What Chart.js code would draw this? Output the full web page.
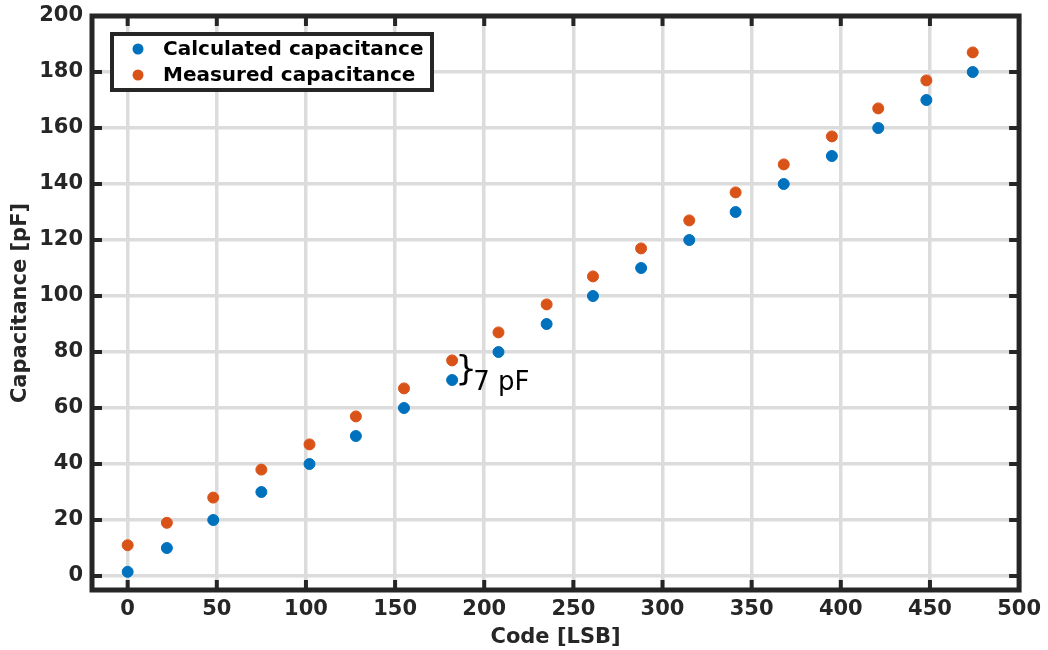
<!DOCTYPE html>
<html>
<head>
<meta charset="utf-8">
<script src="https://cdn.jsdelivr.net/npm/chart.js@4"></script>
<style>
  body { margin: 0; background: #fff; }
  #wrap { width: 1048px; height: 650px; }
</style>
</head>
<body>
<div id="wrap"><canvas id="myChart"></canvas></div>
<script>
const codes = [0, 22, 48, 75, 102, 128, 155, 182, 208, 235, 261, 288, 315, 341, 368, 395, 421, 448, 474];
const calculated = [1.5, 10, 20, 30, 40, 50, 60, 70, 80, 90, 100, 110, 120, 130, 140, 150, 160, 170, 180];
const measured = [11, 19, 28, 38, 47, 57, 67, 77, 87, 97, 107, 117, 127, 137, 147, 157, 167, 177, 187];
const seriesNames = ["Calculated capacitance", "Measured capacitance"];
const noteText = "7 pF";
const notePoint = 7; // index of the annotated code

const dark = "#262626";
const boldFont = { family: "DejaVu Sans", size: 21, weight: "bold" };

// box, inward ticks, legend and the 7 pF note
const matlabLook = {
  id: "matlabLook",
  afterDraw(chart) {
    const ctx = chart.ctx;
    const a = chart.chartArea;
    const xs = chart.scales.x, ys = chart.scales.y;
    ctx.save();
    ctx.strokeStyle = dark;
    ctx.lineWidth = 4;
    ctx.beginPath();
    xs.ticks.forEach(t => {
      const px = xs.getPixelForValue(t.value);
      ctx.moveTo(px, a.bottom); ctx.lineTo(px, a.bottom - 10);
      ctx.moveTo(px, a.top); ctx.lineTo(px, a.top + 10);
    });
    ys.ticks.forEach(t => {
      const py = ys.getPixelForValue(t.value);
      ctx.moveTo(a.left, py); ctx.lineTo(a.left + 10, py);
      ctx.moveTo(a.right, py); ctx.lineTo(a.right - 10, py);
    });
    ctx.stroke();
    ctx.lineWidth = 5;
    ctx.strokeRect(a.left, a.top, a.right - a.left, a.bottom - a.top);

    // legend
    const lx = a.left + 20, ly = a.top + 18, lw = 320, lh = 56;
    ctx.fillStyle = "#fff";
    ctx.fillRect(lx, ly, lw, lh);
    ctx.lineWidth = 4;
    ctx.strokeRect(lx, ly, lw, lh);
    ctx.font = "bold 20px 'DejaVu Sans'";
    ctx.textBaseline = "middle";
    chart.data.datasets.forEach((ds, i) => {
      const cy = ly + 15 + i * 26;
      ctx.fillStyle = ds.backgroundColor;
      ctx.beginPath();
      ctx.arc(lx + 26, cy, 5.5, 0, Math.PI * 2);
      ctx.fill();
      ctx.fillStyle = "#000";
      ctx.fillText(ds.label, lx + 51, cy + 1);
    });

    // note
    const px = xs.getPixelForValue(codes[notePoint]);
    const yTop = ys.getPixelForValue(measured[notePoint]);
    const yBot = ys.getPixelForValue(calculated[notePoint]);
    ctx.fillStyle = "#000";
    ctx.font = "34px 'DejaVu Sans'";
    ctx.textBaseline = "middle";
    ctx.fillText("}", px + 3, (yTop + yBot) / 2 + 1);
    ctx.font = "26px 'DejaVu Sans'";
    ctx.fillText(noteText, px + 21, (yTop + yBot) / 2 + 13);
    ctx.restore();
  }
};

const ctx = document.getElementById("myChart").getContext("2d");

const myChart = new Chart(ctx, {
  type: "scatter",
  data: {
    datasets: [
      {
        label: seriesNames[0],
        data: codes.map((c, i) => ({ x: c, y: calculated[i] })),
        backgroundColor: "#0072BD",
        borderColor: "#0072BD",
        pointRadius: 5.5,
        pointHoverRadius: 5.5,
      },
      {
        label: seriesNames[1],
        data: codes.map((c, i) => ({ x: c, y: measured[i] })),
        backgroundColor: "#D95319",
        borderColor: "#D95319",
        pointRadius: 5.5,
        pointHoverRadius: 5.5,
      },
    ],
  },
  options: {
    responsive: true,
    maintainAspectRatio: false,
    animation: false,
    layout: { padding: { top: 16, right: 24, left: 8, bottom: 0 } },
    plugins: {
      legend: { display: false },
      tooltip: { enabled: false },
    },
    scales: {
      x: {
        min: -20,
        max: 500,
        afterFit(scale) { scale.height = 60; },
        afterBuildTicks(scale) {
          scale.ticks = [0, 50, 100, 150, 200, 250, 300, 350, 400, 450, 500].map(v => ({ value: v }));
        },
        grid: { color: "#dcdcdc", lineWidth: 3.5, drawTicks: false },
        border: { display: false },
        ticks: { color: dark, font: boldFont, padding: 7, maxRotation: 0 },
        title: { display: true, text: "Code [LSB]", color: dark, font: boldFont, padding: { top: 0, bottom: 0 } },
      },
      y: {
        min: -5,
        max: 200,
        afterFit(scale) {
          scale.width = 84;
          scale.paddingTop = 0;
          scale.paddingBottom = 0;
        },
        afterBuildTicks(scale) {
          scale.ticks = [0, 20, 40, 60, 80, 100, 120, 140, 160, 180, 200].map(v => ({ value: v }));
        },
        grid: { color: "#dcdcdc", lineWidth: 3.5, drawTicks: false },
        border: { display: false },
        ticks: { color: dark, font: boldFont, padding: 9 },
        title: { display: true, text: "Capacitance [pF]", color: dark, font: boldFont, padding: { top: 0, bottom: 0 } },
      },
    },
  },
  plugins: [matlabLook],
});
</script>
</body>
</html>
